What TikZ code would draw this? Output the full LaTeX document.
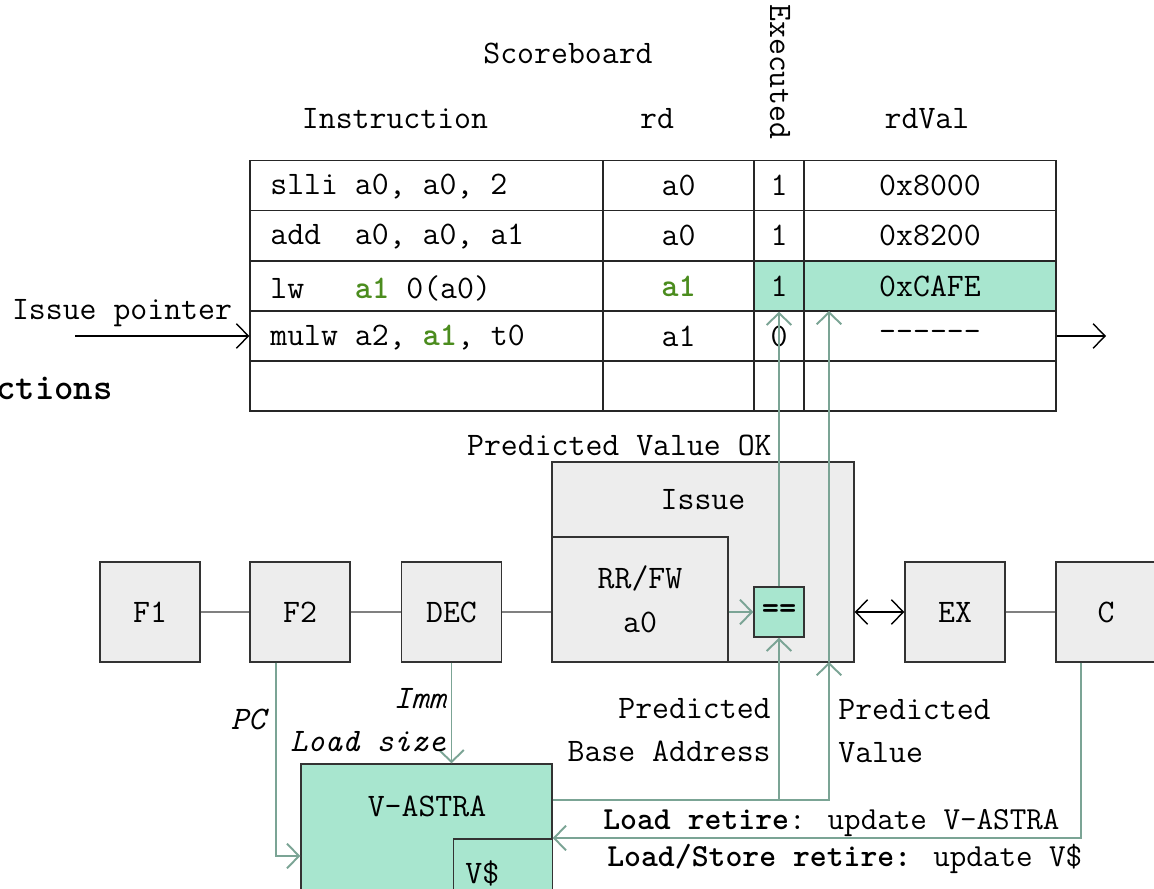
\documentclass[tikz,border=0pt]{standalone}
\usetikzlibrary{arrows.meta}
\definecolor{boxfill}{HTML}{EDEDED}
\definecolor{mint}{HTML}{A8E6CF}
\definecolor{wirec}{HTML}{7BA495}
\definecolor{regg}{HTML}{4B8C1E}
\newcommand\basefont{\fontsize{18.7}{22}\selectfont\ttfamily}
\begin{document}
\begin{tikzpicture}[x=0.02cm,y=-0.02cm,
  font=\basefont,
  >={Straight Barb[length=6.8pt,width=14pt]},
  cell/.style={draw=black!85, line width=0.8pt, minimum height=1cm, inner sep=0pt},
  stage/.style={draw=black!80, line width=0.8pt, fill=boxfill, minimum width=2cm, minimum height=2cm, inner sep=0pt},
  wire/.style={draw=wirec, line width=1.1pt},
  link/.style={draw=gray, line width=1.1pt},
  lbl/.style={inner sep=0pt},
  instr/.style={inner sep=0pt, anchor=west},
  itlbl/.style={inner sep=0pt, font=\basefont\itshape},
  retire/.style={inner sep=0pt, anchor=west, font=\fontsize{18.3}{22}\selectfont\ttfamily}]
\useasboundingbox (0,0) rectangle (1154,889);

% --- scoreboard ---
\node[lbl] (title) at (568,53) {Scoreboard};
\node[lbl] (hins) at (395,119) {Instruction};
\node[lbl] (hrd) at (657,119) {rd};
\node[lbl, rotate=-90] (hex) at (780,72) {Executed};
\node[lbl] (hval) at (927,119) {rdVal};

\fill[mint] (754,260.5) rectangle (1056,311);

\node[cell, minimum width=7.06cm] (ins1) at (426.5,185.5) {};
\node[cell, minimum width=7.06cm] (ins2) at (426.5,235.5) {};
\node[cell, minimum width=7.06cm] (ins3) at (426.5,286) {};
\node[cell, minimum width=7.06cm] (ins4) at (426.5,336) {};
\node[cell, minimum width=7.06cm] (ins5) at (426.5,386) {};
\node[instr] (t1) at (270,187) {slli a0, a0, 2};
\node[instr] (t2) at (270,237) {add\ \ a0, a0, a1};
\node[instr] (t3) at (270,288) {lw\ \ \ {\bfseries\color{regg}a1} 0(a0)};
\node[instr] (t4) at (270,338) {mulw a2, {\bfseries\color{regg}a1}, t0};

\node[cell, minimum width=3.02cm] (rd1) at (678.5,185.5) {a0};
\node[cell, minimum width=3.02cm] (rd2) at (678.5,235.5) {a0};
\node[cell, minimum width=3.02cm] (rd3) at (678.5,286) {{\bfseries\color{regg}a1}};
\node[cell, minimum width=3.02cm] (rd4) at (678.5,336) {a1};
\node[cell, minimum width=3.02cm] (rd5) at (678.5,386) {};

\node[cell, minimum width=1cm] (ex1) at (779,185.5) {1};
\node[cell, minimum width=1cm] (ex2) at (779,235.5) {1};
\node[cell, minimum width=1cm] (ex3) at (779,286) {1};
\node[cell, minimum width=1cm] (ex4) at (779,336) {0};
\node[cell, minimum width=1cm] (ex5) at (779,386) {};

\node[cell, minimum width=5.04cm] (val1) at (930,185.5) {0x8000};
\node[cell, minimum width=5.04cm] (val2) at (930,235.5) {0x8200};
\node[cell, minimum width=5.04cm] (val3) at (930,286) {0xCAFE};
\node[cell, minimum width=5.04cm] (val4) at (930,336) {------};
\node[cell, minimum width=5.04cm] (val5) at (930,386) {};

% issue pointer
\node[lbl] (iplabel) at (122,313) {Issue pointer};
\coordinate (ipstart) at (75,336);
\draw[->, line width=0.8pt] (ipstart) -- (ins4.west);
\coordinate (outend) at (1106,336);
\draw[->, line width=0.8pt] (val4.east) -- (outend);

\node[lbl, anchor=east, font=\fontsize{21}{24}\selectfont\ttfamily\bfseries] (sect) at (113,388) {Instructions};

% --- pipeline ---
\node[stage] (f1) at (150,612) {F1};
\node[stage] (f2) at (300,612) {F2};
\node[stage] (dec) at (451.5,612) {DEC};
\node[stage, minimum width=6.04cm, minimum height=4cm] (issue) at (703,562) {};
\node[lbl] (issuelbl) at (703,500) {Issue};
\node[stage, minimum width=3.52cm, minimum height=2.5cm, align=center,
      font=\fontsize{18.7}{25}\selectfont\ttfamily] (rrfw) at (640,599.5) {RR/FW\\a0};
\node[draw=black!80, line width=0.8pt, fill=mint, minimum size=1cm, inner sep=0pt,
      font=\basefont\bfseries] (eq) at (779,612) {==};
\node[stage] (ex) at (955,612) {EX};
\node[stage] (c) at (1106,612) {C};

\draw[link] (f1) -- (f2);
\draw[link] (f2) -- (dec);
\draw[link] (dec) -- (dec -| issue.west);
\draw[link] (ex) -- (c);
\draw[<->, line width=0.8pt] (issue.east |- ex.west) -- (ex.west);
\draw[wire, ->] (rrfw.east |- eq.west) -- (eq.west);

% --- V-ASTRA ---
\node[draw=black!80, line width=0.8pt, fill=mint, minimum width=5.02cm, minimum height=3.12cm, inner sep=0pt] (vastra) at (426.5,842) {};
\node[lbl] (vastralbl) at (427,806) {V-ASTRA};
\node[draw=black!80, line width=0.8pt, fill=mint, minimum width=1.98cm, minimum height=2.12cm, inner sep=0pt] (vcache) at (503,892) {};
\node[lbl, anchor=west] (vcachelbl) at (465,873) {V\$};

% front-end inputs
\draw[wire, ->] ([xshift=-0.48cm]f2.south) |- ([yshift=-0.28cm]vastra.west);
\node[itlbl] (pclbl) at (248,719) {PC};
\draw[wire, ->] (dec.south) -- (dec.south |- vastra.north);
\node[itlbl, anchor=east] (immlbl) at (446,699) {Imm};
\node[itlbl, anchor=east] (sizelbl) at (446,742) {Load size};

% predictions
\coordinate (tap) at (779,800);
\coordinate (pvbot) at (829,662);
\coordinate (pvtop) at (829,311);
\draw[wire, ->] ([yshift=0.84cm]vastra.east) -| (pvbot);
\draw[wire, ->] (tap) -- (eq.south);
\draw[wire, ->] (pvbot) -- (pvtop);
\draw[wire, ->] (eq.north) -- (ex3.south);
\node[lbl, anchor=east] (oklbl) at (772,445) {Predicted Value OK};
\node[lbl, anchor=east, align=right, font=\fontsize{18.7}{24.4}\selectfont\ttfamily] (pbalbl) at (771,730) {Predicted\\Base Address};
\node[lbl, anchor=west, align=left, font=\fontsize{18.7}{24.4}\selectfont\ttfamily] (pvlbl) at (838,731) {Predicted\\Value};

% retire updates
\draw[wire, ->] ([xshift=-0.5cm]c.south) |- ([yshift=0.08cm]vastra.east);
\node[retire] (ret1) at (603,823) {\textbf{Load retire}: update V-ASTRA};
\node[retire] (ret2) at (607,859) {\textbf{Load/Store retire:} update V\$};
\end{tikzpicture}
\end{document}
